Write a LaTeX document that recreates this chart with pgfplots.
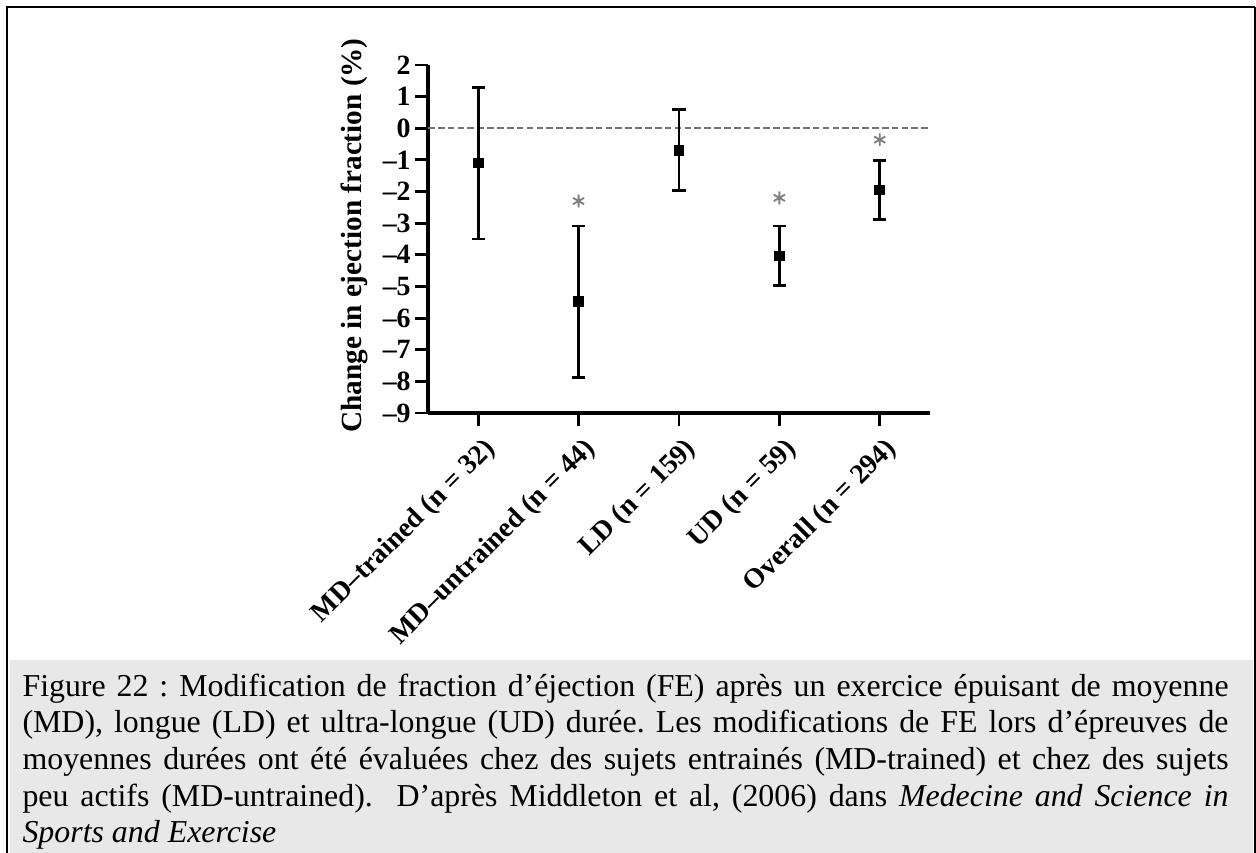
\documentclass[border=0pt]{standalone}
\usepackage{pgfplots}
\pgfplotsset{compat=1.18}
\usepackage{fontspec}
\setmainfont{Liberation Serif}
\begin{document}
\frenchspacing
\begin{tikzpicture}
\useasboundingbox (0,0) rectangle (471bp,-319.875bp);
\fill[white] (0,0) rectangle (471bp,-319.875bp);
\fill[black!9] (3.75bp,-247.5bp) rectangle (469.9bp,-319.875bp);
\draw[line width=1.1bp] (2.625bp,-319.875bp) -- (2.625bp,-2.625bp) -- (470.6bp,-2.625bp);
\draw[line width=0.6bp] (470.6bp,-2.625bp) -- (470.6bp,-319.875bp);
\begin{axis}[
  at={(160.5bp,-154.875bp)}, anchor=south west,
  width=188.25bp, height=130.5bp, scale only axis,
  xmin=0.5, xmax=5.5, ymin=-9, ymax=2,
  axis x line*=bottom, axis y line*=left,
  axis line style={line width=1.5bp},
  xtick={1,2,3,4,5},
  xticklabels={MD–trained (n = 32), MD–untrained (n = 44), LD (n = 159), UD (n = 59), Overall (n = 294)},
  ytick={-9,-8,-7,-6,-5,-4,-3,-2,-1,0,1,2},
  yticklabels={–9,–8,–7,–6,–5,–4,–3,–2,–1,0,1,2},
  tick align=outside, major tick length=4.8bp,
  every tick/.style={black, line width=1.1bp},
  yticklabel style={font=\fontsize{10.5}{10.5}\selectfont\bfseries, inner sep=1.5bp},
  xticklabel style={font=\fontsize{10.5}{11}\selectfont\bfseries, rotate=45, anchor=north east, inner sep=1.5bp, yshift=-2bp},
  ylabel={Change in ejection fraction (\%)},
  ylabel style={font=\fontsize{11}{12}\selectfont\bfseries, at={(axis description cs:-0.146,0.51)}, anchor=center, rotate=0},
  clip=false,
]
\addplot[black!55, line width=0.75bp, dash pattern=on 2.5bp off 1.2bp] coordinates {(0.5,0) (5.5,0)};
\addplot[only marks, mark=square*, mark size=1.8bp, black,
  error bars/.cd, y dir=both, y explicit,
  error bar style={line width=1.1bp, black},
  error mark options={rotate=90, line width=1.1bp, mark size=2.5bp, black}]
coordinates {
(1,-1.10) += (0,2.40) -= (0,2.40)
(2,-5.48) += (0,2.39) -= (0,2.39)
(3,-0.70) += (0,1.30) -= (0,1.28)
(4,-4.04) += (0,0.95) -= (0,0.93)
(5,-1.95) += (0,0.92) -= (0,0.93)
};
\addplot[only marks, mark=asterisk, mark size=2.4bp, black!50, line width=0.7bp]
coordinates {(2,-2.3) (4,-2.2) (5,-0.36)};
\end{axis}
\node[anchor=north west, inner sep=0pt, text width=452.25bp, align=justify,
  font=\fontsize{12}{13.8}\selectfont] at (8.25bp,-251.3bp)
{\strut Figure 22 : Modification de fraction d’éjection (FE) après un exercice épuisant de moyenne\linebreak
(MD), longue (LD) et ultra-longue (UD) durée. Les modifications de FE lors d’épreuves de\linebreak
moyennes durées ont été évaluées chez des sujets entrainés (MD-trained) et chez des sujets\linebreak
peu actifs (MD-untrained).\ \ D’après Middleton et al, (2006) dans \textit{Medecine and Science in}\linebreak
\textit{Sports and Exercise}};
\end{tikzpicture}
\end{document}
